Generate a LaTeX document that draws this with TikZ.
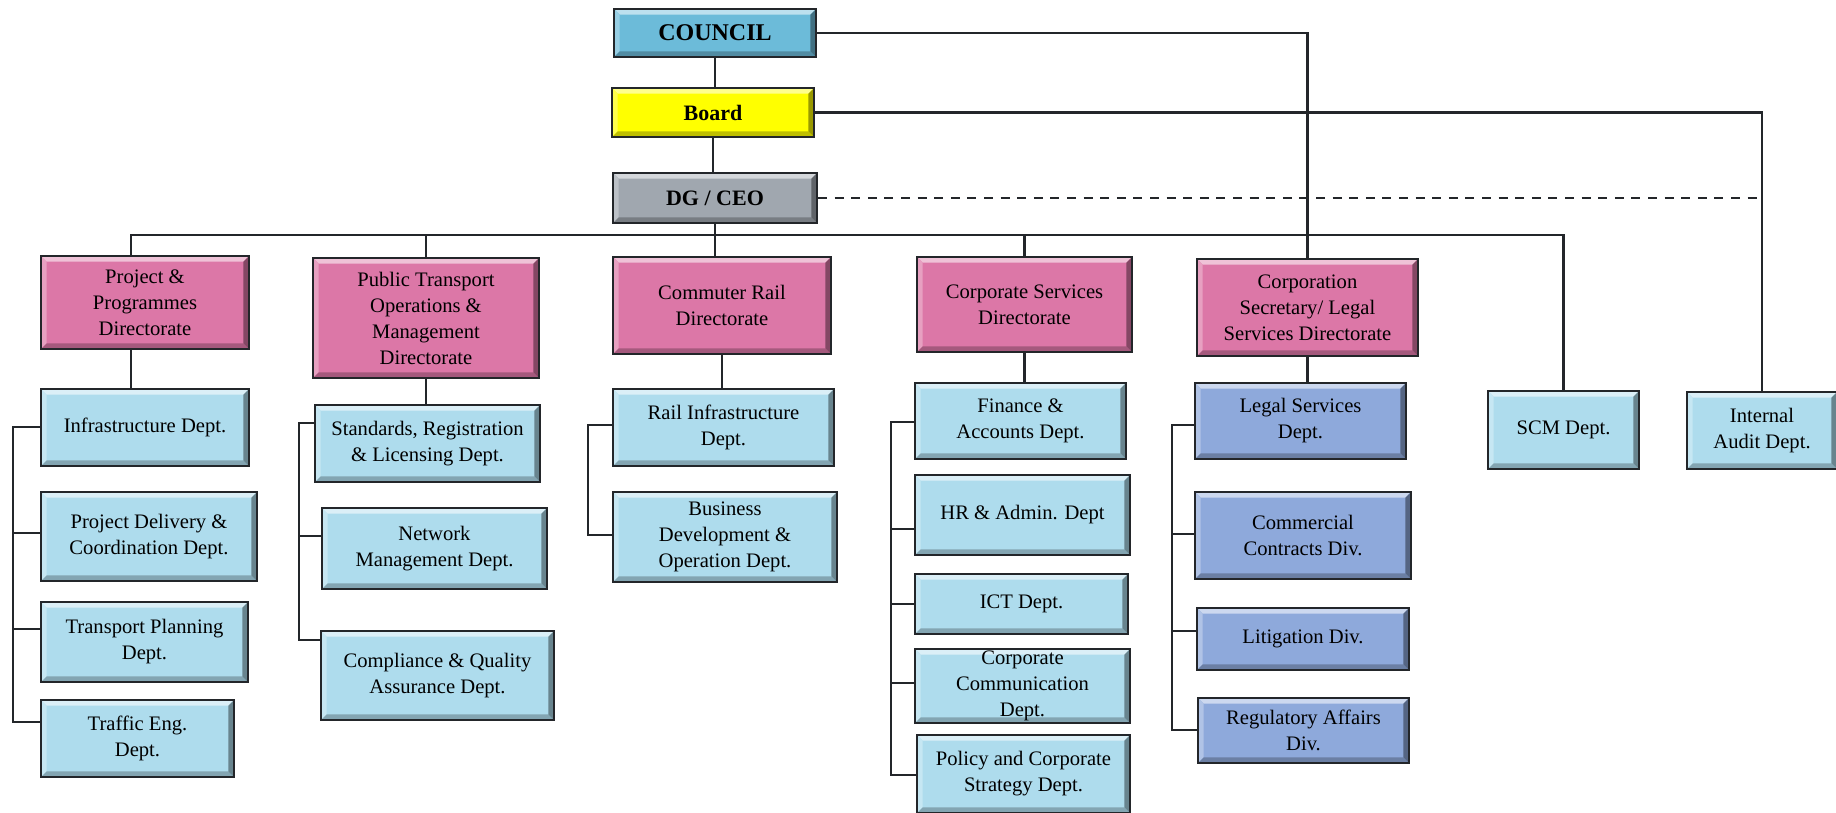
\documentclass[tikz,border=0pt]{standalone}
\usepackage{fontspec}
\setmainfont{Liberation Serif}
\usepackage{xcolor}
\definecolor{councilblue}{RGB}{108,187,217}
\definecolor{boardyellow}{RGB}{255,255,0}
\definecolor{ceogray}{RGB}{160,167,175}
\definecolor{dirpink}{RGB}{220,119,167}
\definecolor{deptblue}{RGB}{174,220,237}
\definecolor{legalblue}{RGB}{142,169,219}
\definecolor{edgedark}{RGB}{35,38,42}
\usepackage{tikz}
\usetikzlibrary{positioning, calc}

\begin{document}
\begin{tikzpicture}[x=0.5pt, y=-0.5pt,
    orgbox/.style={draw=edgedark, line width=1pt, fill=#1, align=center, inner sep=1pt,
        font=\fontsize{10.3}{13}\selectfont,
        path picture={
            \fill[#1!45!white] (path picture bounding box.north west) -- (path picture bounding box.north east)
                -- ([shift={(-2.8pt,-2.8pt)}]path picture bounding box.north east)
                -- ([shift={(2.8pt,-2.8pt)}]path picture bounding box.north west) -- cycle;
            \fill[#1!70!white] (path picture bounding box.north west) -- ([shift={(2.8pt,-2.8pt)}]path picture bounding box.north west)
                -- ([shift={(2.8pt,2.8pt)}]path picture bounding box.south west) -- (path picture bounding box.south west) -- cycle;
            \fill[#1!75!black] (path picture bounding box.south west) -- ([shift={(2.8pt,2.8pt)}]path picture bounding box.south west)
                -- ([shift={(-2.8pt,2.8pt)}]path picture bounding box.south east) -- (path picture bounding box.south east) -- cycle;
            \fill[#1!60!black] (path picture bounding box.north east) -- ([shift={(-2.8pt,-2.8pt)}]path picture bounding box.north east)
                -- ([shift={(-2.8pt,2.8pt)}]path picture bounding box.south east) -- (path picture bounding box.south east) -- cycle;
        }},
    boxwh/.style 2 args={minimum width=#1*0.5pt, minimum height=#2*0.5pt},
    topfont/.style={font=\bfseries\fontsize{#1}{13}\selectfont},
    link/.style={draw=edgedark, line width=1.1pt, line cap=rect},
    ]
    \useasboundingbox (0,0) rectangle (1836,813);

    % Council, Board and DG / CEO
    \node[orgbox=councilblue, boxwh={202}{48}, topfont=12] (council) at (715,33) {COUNCIL};
    \node[orgbox=boardyellow, boxwh={202}{49}, topfont=11] (board) at (713,112.5) {Board};
    \node[orgbox=ceogray, boxwh={204}{50}, topfont=11] (dgceo) at (715,198) {DG / CEO};

    % Directorates
    \node[orgbox=dirpink, boxwh={208}{93}] (ppd) at (145,302.5) {Project \&\\Programmes\\Directorate};
    \node[orgbox=dirpink, boxwh={226}{120}] (ptd) at (426,318) {Public Transport\\Operations \&\\Management\\Directorate};
    \node[orgbox=dirpink, boxwh={218}{97}] (crd) at (722,305.5) {Commuter Rail\\Directorate};
    \node[orgbox=dirpink, boxwh={215}{95}] (csd) at (1024.5,304.5) {Corporate Services\\Directorate};
    \node[orgbox=dirpink, boxwh={221}{97}] (csl) at (1307.5,307.5) {Corporation\\Secretary/ Legal\\Services Directorate};
    \node[orgbox=deptblue, boxwh={151}{78}] (scm) at (1563.5,430) {SCM Dept.};
    \node[orgbox=deptblue, boxwh={150}{77}] (audit) at (1762,430.5) {Internal\\Audit Dept.};

    % Project & Programmes departments
    \node[orgbox=deptblue, boxwh={208}{77}] (infra) at (145,427.5) {Infrastructure Dept.};
    \node[orgbox=deptblue, boxwh={216}{89}] (projdel) at (149,536.5) {Project Delivery \&\\Coordination Dept.};
    \node[orgbox=deptblue, boxwh={207}{80}] (tplan) at (144.5,642) {Transport Planning\\Dept.};
    \node[orgbox=deptblue, boxwh={193}{77}] (traffic) at (137.5,738.5) {Traffic Eng.\\Dept.};

    % Public Transport departments
    \node[orgbox=deptblue, boxwh={225}{77}] (stdreg) at (427.5,443.5) {Standards, Registration\\\& Licensing Dept.};
    \node[orgbox=deptblue, boxwh={225}{81}] (netman) at (434.5,548.5) {Network\\Management Dept.};
    \node[orgbox=deptblue, boxwh={233}{89}] (compq) at (437.5,675.5) {Compliance \& Quality\\Assurance Dept.};

    % Commuter Rail departments
    \node[orgbox=deptblue, boxwh={221}{77}] (railinf) at (723.5,427.5) {Rail Infrastructure\\Dept.};
    \node[orgbox=deptblue, boxwh={224}{90}] (bizdev) at (725,537) {Business\\Development \&\\Operation Dept.};

    % Corporate Services departments
    \node[orgbox=deptblue, boxwh={211}{76}] (finance) at (1020.5,421) {Finance \&\\Accounts Dept.};
    \node[orgbox=deptblue, boxwh={215}{80}] (hradmin) at (1022.5,515) {HR \& Admin. Dept};
    \node[orgbox=deptblue, boxwh={213}{60}] (ict) at (1021.5,604) {ICT Dept.};
    \node[orgbox=deptblue, boxwh={215}{74}] (corpcomm) at (1022.5,686) {Corporate\\Communication\\Dept.};
    \node[orgbox=deptblue, boxwh={213}{78}] (policy) at (1023.5,774) {Policy and Corporate\\Strategy Dept.};

    % Legal departments
    \node[orgbox=legalblue, boxwh={211}{76}] (legal) at (1300.5,421) {Legal Services\\Dept.};
    \node[orgbox=legalblue, boxwh={216}{87}] (contracts) at (1303,535.5) {Commercial\\Contracts Div.};
    \node[orgbox=legalblue, boxwh={212}{62}] (litig) at (1303,639) {Litigation Div.};
    \node[orgbox=legalblue, boxwh={211}{65}] (regaff) at (1303.5,730.5) {Regulatory Affairs\\Div.};

    % Lines from the top
    \draw[link] (council.south) -- (council.south |- board.north);
    \draw[link] (board.south) -- (board.south |- dgceo.north);
    \draw[link] (dgceo.south) -- (dgceo.south |- crd.north);
    \draw[link] (council.east) -| (csl.north);
    \draw[link] (board.east) -| (audit.north);
    \coordinate (dashend) at (1757,198);
    \draw[link, line cap=butt, dash pattern=on 4.5pt off 3.8pt] (dgceo.east) -- (dashend);

    % Directorate bus
    \coordinate (busleft) at (131,235);
    \coordinate (busright) at (1564,235);
    \draw[link] (busleft) -- (busright);
    \draw[link] (busleft) -- (busleft |- ppd.north);
    \foreach \d in {ptd, csd, scm}
        \draw[link] (\d.north) -- (\d.north |- busleft);

    % Directorate to first department
    \draw[link] (busleft |- ppd.south) -- (busleft |- infra.north);
    \draw[link] (ptd.south) -- (ptd.south |- stdreg.north);
    \draw[link] (crd.south) -- (crd.south |- railinf.north);
    \draw[link] (csd.south) -- (csd.south |- finance.north);
    \draw[link] (csl.south) -- (csl.south |- legal.north);

    % Side spines
    \draw[link] (13,427) -- (13,722);
    \foreach \n/\y in {infra/427, projdel/533, tplan/629, traffic/722}
        \draw[link] (13,\y) -- (\n.west |- 13,\y);
    \draw[link] (299,423) -- (299,640);
    \foreach \n/\y in {stdreg/423, netman/536, compq/640}
        \draw[link] (299,\y) -- (\n.west |- 299,\y);
    \draw[link] (588,425) -- (588,535);
    \foreach \n/\y in {railinf/425, bizdev/535}
        \draw[link] (588,\y) -- (\n.west |- 588,\y);
    \draw[link] (891,422) -- (891,775);
    \foreach \n/\y in {finance/422, hradmin/529, ict/604, corpcomm/683, policy/775}
        \draw[link] (891,\y) -- (\n.west |- 891,\y);
    \draw[link] (1172,425) -- (1172,730);
    \foreach \n/\y in {legal/425, contracts/534, litig/631, regaff/730}
        \draw[link] (1172,\y) -- (\n.west |- 1172,\y);

\end{tikzpicture}
\end{document}
